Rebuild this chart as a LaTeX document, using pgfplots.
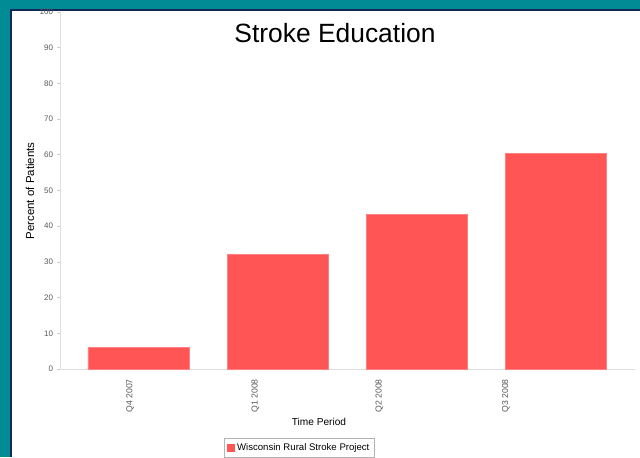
\documentclass[border=0pt]{standalone}
\usepackage{pgfplots}
\pgfplotsset{compat=1.18}
\usepackage{fontspec}
\setmainfont{Liberation Sans}
\definecolor{tealbg}{RGB}{0,139,149}
\definecolor{navy}{RGB}{16,40,90}
\definecolor{barred}{RGB}{255,85,85}
\begin{document}
\begin{tikzpicture}
% background panel
\fill[tealbg] (0pt,0pt) rectangle (480pt,342.75pt);
\fill[navy] (7.5pt,0pt) rectangle (480pt,336pt);
\fill[white] (9pt,0pt) rectangle (480pt,334.5pt);
\begin{axis}[
  at={(45pt,66pt)}, anchor=south west,
  scale only axis, width=431.25pt, height=267.75pt,
  xmin=-0.564, xmax=3.567, ymin=0, ymax=100,
  enlargelimits=false,
  axis x line*=bottom, axis y line*=left,
  axis line style={gray!25, line width=0.6pt},
  every inner x axis line/.append style={-},
  every inner y axis line/.append style={-},
  ytick={0,10,...,100},
  ytick style={gray!40, line width=0.5pt},
  major tick length=2.2pt,
  tick align=outside,
  /pgf/number format/assume math mode=true,
  yticklabel style={font=\fontsize{6}{7}\selectfont, text=black!65, xshift=0.5pt},
  xtick={-0.06,0.84,1.73,2.64},
  xticklabels={Q4 2007,Q1 2008,Q2 2008,Q3 2008},
  xtick style={draw=none},
  xticklabel style={font=\fontsize{6.5}{7}\selectfont, text=black!65, rotate=90, anchor=east, xshift=-2pt},
  ybar, bar width=0.726,
  legend style={at={(0.417,-0.221)}, anchor=center, draw=gray!60, line width=0.5pt,
    font=\fontsize{7.2}{8}\selectfont, inner xsep=2pt, inner ysep=1.5pt},
  legend image code/.code={\fill[barred] (0pt,-2.4pt) rectangle (4.8pt,2.4pt);},
]
\addplot[fill=barred, draw=barred!75!white, line width=0.4pt] coordinates {(0,6.0) (1,32.2) (2,43.4) (3,60.4)};
\addlegendentry{Wisconsin Rural Stroke Project}
\end{axis}
\node[font=\fontsize{19.8}{22}\selectfont] at (251.25pt,318pt) {Stroke Education};
\node[font=\fontsize{8.6}{10}\selectfont, rotate=90] at (22.5pt,199.5pt) {Percent of Patients};
\node[font=\fontsize{7.6}{9}\selectfont] at (239.25pt,26.25pt) {Time Period};
\end{tikzpicture}
\end{document}
